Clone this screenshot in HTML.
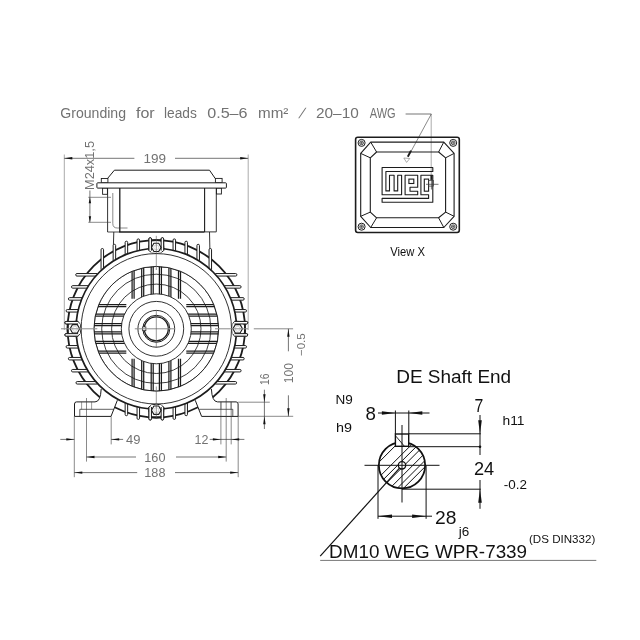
<!DOCTYPE html>
<html><head><meta charset="utf-8"><title>Motor drawing</title>
<style>
html,body{margin:0;padding:0;background:#fff;}
body{width:640px;height:640px;overflow:hidden;}
svg{display:block;font-family:"Liberation Sans",sans-serif;will-change:transform;opacity:0.999;}
</style></head><body>
<svg width="640" height="640" viewBox="0 0 640 640">
<rect width="640" height="640" fill="#fff"/>
<text x="60.3" y="117.6" font-size="14" fill="#727272" textLength="65.7" lengthAdjust="spacingAndGlyphs" >Grounding</text>
<text x="136" y="117.6" font-size="14" fill="#727272" textLength="18.7" lengthAdjust="spacingAndGlyphs" >for</text>
<text x="164" y="117.6" font-size="14" fill="#727272" textLength="32.9" lengthAdjust="spacingAndGlyphs" >leads</text>
<text x="207.2" y="117.6" font-size="14" fill="#727272" textLength="40.4" lengthAdjust="spacingAndGlyphs" >0.5–6</text>
<text x="258" y="117.6" font-size="14" fill="#727272" textLength="30.4" lengthAdjust="spacingAndGlyphs" >mm²</text>
<text x="0" y="0" font-size="14" fill="#727272" transform="translate(298.3 117.6) skewX(-23)">/</text>
<text x="316" y="117.6" font-size="14" fill="#727272" textLength="42.75" lengthAdjust="spacingAndGlyphs" >20–10</text>
<text x="369.7" y="117.6" font-size="14" fill="#727272" textLength="25.9" lengthAdjust="spacingAndGlyphs" >AWG</text>
<line x1="405.6" y1="114" x2="431.3" y2="114" stroke="#3a3a3a" stroke-width="0.7" />
<line x1="431.2" y1="114" x2="431.2" y2="175" stroke="#555" stroke-width="0.5" />
<line x1="431.3" y1="114" x2="409.4" y2="154.4" stroke="#3a3a3a" stroke-width="0.6" />
<line x1="411" y1="150.6" x2="407.8" y2="156.8" stroke="#1c1c1c" stroke-width="1.9" />
<path d="M403.8 158 L409.8 158.5 L406.6 162.4 Z" fill="none" stroke="#777" stroke-width="0.6" stroke-linejoin="round" />
<line x1="64.3" y1="154.5" x2="64.3" y2="330" stroke="#555" stroke-width="0.5" />
<line x1="248.2" y1="154.5" x2="248.2" y2="330" stroke="#555" stroke-width="0.5" />
<line x1="64.3" y1="158.3" x2="134.4" y2="158.3" stroke="#3a3a3a" stroke-width="0.7" />
<line x1="175" y1="158.3" x2="248.2" y2="158.3" stroke="#3a3a3a" stroke-width="0.7" />
<polygon points="64.3,158.3 72.3,157.1 72.3,159.5" fill="#111"/>
<polygon points="248.2,158.3 240.2,159.5 240.2,157.1" fill="#111"/>
<text x="143.4" y="162.6" font-size="13" fill="#727272" textLength="22.6" lengthAdjust="spacingAndGlyphs" >199</text>
<path d="M113.8 232 L113.4 245.5" fill="none" stroke="#1c1c1c" stroke-width="0.9" stroke-linejoin="round" />
<path d="M209.5 232 L209.9 250" fill="none" stroke="#1c1c1c" stroke-width="0.9" stroke-linejoin="round" />
<path d="M107.6 178.4 L114.4 170.2 L209.5 170.2 L215.3 178.6" fill="none" stroke="#1c1c1c" stroke-width="1.0" stroke-linejoin="round" />
<rect x="101.3" y="178.5" width="6.6" height="4.3" fill="#fff" stroke="#1c1c1c" stroke-width="0.9"/>
<rect x="215.4" y="178.4" width="6.7" height="4.3" fill="#fff" stroke="#1c1c1c" stroke-width="0.9"/>
<rect x="102.6" y="188" width="4.8" height="6.3" fill="#fff" stroke="#1c1c1c" stroke-width="0.9"/>
<rect x="216.4" y="188" width="5" height="6" fill="#fff" stroke="#1c1c1c" stroke-width="0.9"/>
<rect x="96.9" y="182.8" width="129.5" height="5.3" rx="0.8" fill="#fff" stroke="#1c1c1c" stroke-width="1.0"/>
<line x1="107.6" y1="188" x2="107.6" y2="232" stroke="#1c1c1c" stroke-width="0.9" />
<line x1="216.3" y1="188" x2="216.3" y2="231.8" stroke="#1c1c1c" stroke-width="0.9" />
<line x1="119.8" y1="188" x2="119.8" y2="232" stroke="#1c1c1c" stroke-width="1.3" />
<line x1="204.6" y1="188" x2="204.6" y2="232" stroke="#1c1c1c" stroke-width="1.1" />
<line x1="119.2" y1="231.9" x2="204.6" y2="231.9" stroke="#1c1c1c" stroke-width="1.5" />
<line x1="204.6" y1="231.9" x2="216.3" y2="231.9" stroke="#1c1c1c" stroke-width="0.9" />
<line x1="107.6" y1="232" x2="119.8" y2="232" stroke="#1c1c1c" stroke-width="0.8" />
<path d="M112.8 193 L112.8 223.5 Q112.8 228 117.3 228 L127.5 228" fill="none" stroke="#3a3a3a" stroke-width="0.6" />
<line x1="88.3" y1="197.3" x2="111" y2="197.3" stroke="#3a3a3a" stroke-width="0.6" />
<line x1="88.3" y1="222.3" x2="111" y2="222.3" stroke="#3a3a3a" stroke-width="0.6" />
<line x1="89.9" y1="190.5" x2="89.9" y2="222.3" stroke="#3a3a3a" stroke-width="0.7" />
<polygon points="89.9,197.3 91.1,203.3 88.7,203.3" fill="#111"/>
<polygon points="89.9,222.3 88.7,216.3 91.1,216.3" fill="#111"/>
<text x="94" y="190" font-size="12.4" fill="#727272" textLength="49" lengthAdjust="spacingAndGlyphs" transform="rotate(-90 94 190)" >M24x1,5</text>
<g id="motor">
<circle cx="156.3" cy="328.8" r="88.7" fill="none" stroke="#1c1c1c" stroke-width="1.8" />
<path d="M101.2 389 Q100.6 401.9 95 401.9 L76.5 401.9 Q74.5 401.9 74.5 404 L74.5 416.4 L111 416.4 L117.4 400.2" fill="#fff" stroke="#1c1c1c" stroke-width="1.0" />
<line x1="79.8" y1="409.3" x2="113.5" y2="409.3" stroke="#1c1c1c" stroke-width="0.7" />
<line x1="79.8" y1="409.3" x2="79.8" y2="416.4" stroke="#1c1c1c" stroke-width="0.7" />
<line x1="81.6" y1="401.9" x2="81.6" y2="409.3" stroke="#3a3a3a" stroke-width="0.5" />
<line x1="91.6" y1="401.9" x2="91.6" y2="409.3" stroke="#3a3a3a" stroke-width="0.5" />
<path d="M211.4 389 Q212 401.9 217.6 401.9 L236.1 401.9 Q238.1 401.9 238.1 404 L238.1 416.4 L201.6 416.4 L195.2 400.2" fill="#fff" stroke="#1c1c1c" stroke-width="1.0" />
<line x1="232.8" y1="409.3" x2="199.1" y2="409.3" stroke="#1c1c1c" stroke-width="0.7" />
<line x1="232.8" y1="409.3" x2="232.8" y2="416.4" stroke="#1c1c1c" stroke-width="0.7" />
<line x1="231" y1="401.9" x2="231" y2="409.3" stroke="#3a3a3a" stroke-width="0.5" />
<line x1="221" y1="401.9" x2="221" y2="409.3" stroke="#3a3a3a" stroke-width="0.5" />
<path d="M161.15 249.03 L161.15 238.9 Q161.15 237.7 162.4 237.7 Q163.65 237.7 163.65 238.9 L163.65 249.03" fill="#fff" stroke="#1c1c1c" stroke-width="1.0" />
<path d="M236.07 333.65 L246.5 333.65 Q247.7 333.65 247.7 334.9 Q247.7 336.15 246.5 336.15 L236.07 336.15" fill="#fff" stroke="#1c1c1c" stroke-width="1.0" />
<path d="M236.07 321.45 L246.5 321.45 Q247.7 321.45 247.7 322.7 Q247.7 323.95 246.5 323.95 L236.07 323.95" fill="#fff" stroke="#1c1c1c" stroke-width="1.0" />
<path d="M148.95 249.03 L148.95 238.9 Q148.95 237.7 150.2 237.7 Q151.45 237.7 151.45 238.9 L151.45 249.03" fill="#fff" stroke="#1c1c1c" stroke-width="1.0" />
<path d="M76.53 333.65 L66.1 333.65 Q64.9 333.65 64.9 334.9 Q64.9 336.15 66.1 336.15 L76.53 336.15" fill="#fff" stroke="#1c1c1c" stroke-width="1.0" />
<path d="M76.53 321.45 L66.1 321.45 Q64.9 321.45 64.9 322.7 Q64.9 323.95 66.1 323.95 L76.53 323.95" fill="#fff" stroke="#1c1c1c" stroke-width="1.0" />
<path d="M161.15 408.57 L161.15 418.8 Q161.15 420 162.4 420 Q163.65 420 163.65 418.8 L163.65 408.57" fill="#fff" stroke="#1c1c1c" stroke-width="1.0" />
<path d="M148.95 408.57 L148.95 418.8 Q148.95 420 150.2 420 Q151.45 420 151.45 418.8 L151.45 408.57" fill="#fff" stroke="#1c1c1c" stroke-width="1.0" />
<path d="M173.05 250.85 L173.05 240.1 Q173.05 238.9 174.3 238.9 Q175.55 238.9 175.55 240.1 L175.55 250.85" fill="#fff" stroke="#1c1c1c" stroke-width="1.0" />
<path d="M234.25 345.55 L245.3 345.55 Q246.5 345.55 246.5 346.8 Q246.5 348.05 245.3 348.05 L234.25 348.05" fill="#fff" stroke="#1c1c1c" stroke-width="1.0" />
<path d="M234.25 309.55 L245.3 309.55 Q246.5 309.55 246.5 310.8 Q246.5 312.05 245.3 312.05 L234.25 312.05" fill="#fff" stroke="#1c1c1c" stroke-width="1.0" />
<path d="M137.05 250.85 L137.05 240.1 Q137.05 238.9 138.3 238.9 Q139.55 238.9 139.55 240.1 L139.55 250.85" fill="#fff" stroke="#1c1c1c" stroke-width="1.0" />
<path d="M78.35 345.55 L67.3 345.55 Q66.1 345.55 66.1 346.8 Q66.1 348.05 67.3 348.05 L78.35 348.05" fill="#fff" stroke="#1c1c1c" stroke-width="1.0" />
<path d="M78.35 309.55 L67.3 309.55 Q66.1 309.55 66.1 310.8 Q66.1 312.05 67.3 312.05 L78.35 312.05" fill="#fff" stroke="#1c1c1c" stroke-width="1.0" />
<path d="M173.05 406.75 L173.05 418.2 Q173.05 419.4 174.3 419.4 Q175.55 419.4 175.55 418.2 L175.55 406.75" fill="#fff" stroke="#1c1c1c" stroke-width="1.0" />
<path d="M137.05 406.75 L137.05 418.2 Q137.05 419.4 138.3 419.4 Q139.55 419.4 139.55 418.2 L139.55 406.75" fill="#fff" stroke="#1c1c1c" stroke-width="1.0" />
<path d="M184.95 254.6 L184.95 242.4 Q184.95 241.2 186.2 241.2 Q187.45 241.2 187.45 242.4 L187.45 254.6" fill="#fff" stroke="#1c1c1c" stroke-width="1.0" />
<path d="M230.5 357.45 L243 357.45 Q244.2 357.45 244.2 358.7 Q244.2 359.95 243 359.95 L230.5 359.95" fill="#fff" stroke="#1c1c1c" stroke-width="1.0" />
<path d="M230.5 297.65 L243 297.65 Q244.2 297.65 244.2 298.9 Q244.2 300.15 243 300.15 L230.5 300.15" fill="#fff" stroke="#1c1c1c" stroke-width="1.0" />
<path d="M125.15 254.6 L125.15 242.4 Q125.15 241.2 126.4 241.2 Q127.65 241.2 127.65 242.4 L127.65 254.6" fill="#fff" stroke="#1c1c1c" stroke-width="1.0" />
<path d="M82.1 357.45 L69.6 357.45 Q68.4 357.45 68.4 358.7 Q68.4 359.95 69.6 359.95 L82.1 359.95" fill="#fff" stroke="#1c1c1c" stroke-width="1.0" />
<path d="M82.1 297.65 L69.6 297.65 Q68.4 297.65 68.4 298.9 Q68.4 300.15 69.6 300.15 L82.1 300.15" fill="#fff" stroke="#1c1c1c" stroke-width="1.0" />
<path d="M184.95 403 L184.95 414.5 Q184.95 415.7 186.2 415.7 Q187.45 415.7 187.45 414.5 L187.45 403" fill="#fff" stroke="#1c1c1c" stroke-width="1.0" />
<path d="M125.15 403 L125.15 414.5 Q125.15 415.7 126.4 415.7 Q127.65 415.7 127.65 414.5 L127.65 403" fill="#fff" stroke="#1c1c1c" stroke-width="1.0" />
<path d="M196.95 260.65 L196.95 245.5 Q196.95 244.3 198.2 244.3 Q199.45 244.3 199.45 245.5 L199.45 260.65" fill="#fff" stroke="#1c1c1c" stroke-width="1.0" />
<path d="M224.45 369.45 L239.9 369.45 Q241.1 369.45 241.1 370.7 Q241.1 371.95 239.9 371.95 L224.45 371.95" fill="#fff" stroke="#1c1c1c" stroke-width="1.0" />
<path d="M224.45 285.65 L239.9 285.65 Q241.1 285.65 241.1 286.9 Q241.1 288.15 239.9 288.15 L224.45 288.15" fill="#fff" stroke="#1c1c1c" stroke-width="1.0" />
<path d="M113.15 260.65 L113.15 245.5 Q113.15 244.3 114.4 244.3 Q115.65 244.3 115.65 245.5 L115.65 260.65" fill="#fff" stroke="#1c1c1c" stroke-width="1.0" />
<path d="M88.15 369.45 L72.7 369.45 Q71.5 369.45 71.5 370.7 Q71.5 371.95 72.7 371.95 L88.15 371.95" fill="#fff" stroke="#1c1c1c" stroke-width="1.0" />
<path d="M88.15 285.65 L72.7 285.65 Q71.5 285.65 71.5 286.9 Q71.5 288.15 72.7 288.15 L88.15 288.15" fill="#fff" stroke="#1c1c1c" stroke-width="1.0" />
<path d="M209.05 269.77 L209.05 249.7 Q209.05 248.5 210.3 248.5 Q211.55 248.5 211.55 249.7 L211.55 269.77" fill="#fff" stroke="#1c1c1c" stroke-width="1.0" />
<path d="M215.33 381.55 L235.4 381.55 Q236.6 381.55 236.6 382.8 Q236.6 384.05 235.4 384.05 L215.33 384.05" fill="#fff" stroke="#1c1c1c" stroke-width="1.0" />
<path d="M215.33 273.55 L235.7 273.55 Q236.9 273.55 236.9 274.8 Q236.9 276.05 235.7 276.05 L215.33 276.05" fill="#fff" stroke="#1c1c1c" stroke-width="1.0" />
<path d="M101.05 269.77 L101.05 249.7 Q101.05 248.5 102.3 248.5 Q103.55 248.5 103.55 249.7 L103.55 269.77" fill="#fff" stroke="#1c1c1c" stroke-width="1.0" />
<path d="M97.27 381.55 L77.2 381.55 Q76 381.55 76 382.8 Q76 384.05 77.2 384.05 L97.27 384.05" fill="#fff" stroke="#1c1c1c" stroke-width="1.0" />
<path d="M97.27 273.55 L76.9 273.55 Q75.7 273.55 75.7 274.8 Q75.7 276.05 76.9 276.05 L97.27 276.05" fill="#fff" stroke="#1c1c1c" stroke-width="1.0" />
<circle cx="156.3" cy="328.8" r="80.3" fill="#fff" stroke="#1c1c1c" stroke-width="1.7" />
<circle cx="156.3" cy="328.8" r="75.2" fill="none" stroke="#1c1c1c" stroke-width="0.9" />
<path d="M149 245.4 L148.7 250.4 Q150.7 253.3 156.3 253.5 Q161.9 253.3 163.9 250.4 L163.6 245.4" fill="#fff" stroke="#1c1c1c" stroke-width="1.0" />
<rect x="151.1" y="242.2" width="10.4" height="10.4" fill="#fff"/>
<path d="M149.3 240.38 A88.7 88.7 0 0 1 163.3 240.38" fill="none" stroke="#1c1c1c" stroke-width="1.8" />
<path d="M161.15 250.6 L161.15 238.9 Q161.15 237.7 162.4 237.7 Q163.65 237.7 163.65 238.9 L163.65 250.6" fill="#fff" stroke="#1c1c1c" stroke-width="1.0" />
<path d="M148.95 250.6 L148.95 238.9 Q148.95 237.7 150.2 237.7 Q151.45 237.7 151.45 238.9 L151.45 250.6" fill="#fff" stroke="#1c1c1c" stroke-width="1.0" />
<path d="M161.1 247.4 L158.7 251.56 L153.9 251.56 L151.5 247.4 L153.9 243.24 L158.7 243.24 Z" fill="none" stroke="#1c1c1c" stroke-width="1.1" stroke-linejoin="round" />
<circle cx="156.3" cy="247.4" r="2.5" fill="none" stroke="#b0b0b0" stroke-width="0.5" />
<path d="M239.7 321.5 L234.7 321.2 Q231.8 323.2 231.6 328.8 Q231.8 334.4 234.7 336.4 L239.7 336.1" fill="#fff" stroke="#1c1c1c" stroke-width="1.0" />
<rect x="232.5" y="323.6" width="10.4" height="10.4" fill="#fff"/>
<path d="M244.72 321.8 A88.7 88.7 0 0 1 244.72 335.8" fill="none" stroke="#1c1c1c" stroke-width="1.8" />
<path d="M234.5 333.65 L246.5 333.65 Q247.7 333.65 247.7 334.9 Q247.7 336.15 246.5 336.15 L234.5 336.15" fill="#fff" stroke="#1c1c1c" stroke-width="1.0" />
<path d="M234.5 321.45 L246.5 321.45 Q247.7 321.45 247.7 322.7 Q247.7 323.95 246.5 323.95 L234.5 323.95" fill="#fff" stroke="#1c1c1c" stroke-width="1.0" />
<path d="M242.5 328.8 L240.1 332.96 L235.3 332.96 L232.9 328.8 L235.3 324.64 L240.1 324.64 Z" fill="none" stroke="#1c1c1c" stroke-width="1.1" stroke-linejoin="round" />
<circle cx="237.7" cy="328.8" r="2.5" fill="none" stroke="#b0b0b0" stroke-width="0.5" />
<path d="M163.6 412.2 L163.9 407.2 Q161.9 404.3 156.3 404.1 Q150.7 404.3 148.7 407.2 L149 412.2" fill="#fff" stroke="#1c1c1c" stroke-width="1.0" />
<rect x="151.1" y="405" width="10.4" height="10.4" fill="#fff"/>
<path d="M163.3 417.22 A88.7 88.7 0 0 1 149.3 417.22" fill="none" stroke="#1c1c1c" stroke-width="1.8" />
<path d="M161.15 407 L161.15 418.8 Q161.15 420 162.4 420 Q163.65 420 163.65 418.8 L163.65 407" fill="#fff" stroke="#1c1c1c" stroke-width="1.0" />
<path d="M148.95 407 L148.95 418.8 Q148.95 420 150.2 420 Q151.45 420 151.45 418.8 L151.45 407" fill="#fff" stroke="#1c1c1c" stroke-width="1.0" />
<path d="M161.1 410.2 L158.7 414.36 L153.9 414.36 L151.5 410.2 L153.9 406.04 L158.7 406.04 Z" fill="none" stroke="#1c1c1c" stroke-width="1.1" stroke-linejoin="round" />
<circle cx="156.3" cy="410.2" r="2.5" fill="none" stroke="#b0b0b0" stroke-width="0.5" />
<path d="M72.9 336.1 L77.9 336.4 Q80.8 334.4 81 328.8 Q80.8 323.2 77.9 321.2 L72.9 321.5" fill="#fff" stroke="#1c1c1c" stroke-width="1.0" />
<rect x="69.7" y="323.6" width="10.4" height="10.4" fill="#fff"/>
<path d="M67.88 335.8 A88.7 88.7 0 0 1 67.88 321.8" fill="none" stroke="#1c1c1c" stroke-width="1.8" />
<path d="M78.1 333.65 L66.1 333.65 Q64.9 333.65 64.9 334.9 Q64.9 336.15 66.1 336.15 L78.1 336.15" fill="#fff" stroke="#1c1c1c" stroke-width="1.0" />
<path d="M78.1 321.45 L66.1 321.45 Q64.9 321.45 64.9 322.7 Q64.9 323.95 66.1 323.95 L78.1 323.95" fill="#fff" stroke="#1c1c1c" stroke-width="1.0" />
<path d="M79.7 328.8 L77.3 332.96 L72.5 332.96 L70.1 328.8 L72.5 324.64 L77.3 324.64 Z" fill="none" stroke="#1c1c1c" stroke-width="1.1" stroke-linejoin="round" />
<circle cx="74.9" cy="328.8" r="2.5" fill="none" stroke="#b0b0b0" stroke-width="0.5" />
<defs><clipPath id="gv"><path d="M156.3 328.8 m-62.4 0 a62.4 62.4 0 1 0 124.8 0 a62.4 62.4 0 1 0 -124.8 0 Z M156.3 328.8 m-35 0 a35 35 0 1 1 70 0 a35 35 0 1 1 -70 0 Z" clip-rule="evenodd"/></clipPath></defs>
<g clip-path="url(#gv)">
<circle cx="156.3" cy="328.8" r="62.4" fill="none" stroke="#1c1c1c" stroke-width="0.85" />
<circle cx="156.3" cy="328.8" r="54.6" fill="none" stroke="#1c1c1c" stroke-width="0.85" />
<circle cx="156.3" cy="328.8" r="44.7" fill="none" stroke="#1c1c1c" stroke-width="0.85" />
<line x1="159.4" y1="265.8" x2="159.4" y2="298.8" stroke="#1c1c1c" stroke-width="1.25" />
<line x1="159.4" y1="391.8" x2="159.4" y2="358.8" stroke="#1c1c1c" stroke-width="1.25" />
<line x1="93.3" y1="331.9" x2="126.3" y2="331.9" stroke="#1c1c1c" stroke-width="1.25" />
<line x1="219.3" y1="331.9" x2="186.3" y2="331.9" stroke="#1c1c1c" stroke-width="1.25" />
<line x1="161.4" y1="265.8" x2="161.4" y2="298.8" stroke="#1c1c1c" stroke-width="1.25" />
<line x1="161.4" y1="391.8" x2="161.4" y2="358.8" stroke="#1c1c1c" stroke-width="1.25" />
<line x1="93.3" y1="333.9" x2="126.3" y2="333.9" stroke="#1c1c1c" stroke-width="1.25" />
<line x1="219.3" y1="333.9" x2="186.3" y2="333.9" stroke="#1c1c1c" stroke-width="1.25" />
<line x1="151.2" y1="265.8" x2="151.2" y2="298.8" stroke="#1c1c1c" stroke-width="1.25" />
<line x1="151.2" y1="391.8" x2="151.2" y2="358.8" stroke="#1c1c1c" stroke-width="1.25" />
<line x1="93.3" y1="323.7" x2="126.3" y2="323.7" stroke="#1c1c1c" stroke-width="1.25" />
<line x1="219.3" y1="323.7" x2="186.3" y2="323.7" stroke="#1c1c1c" stroke-width="1.25" />
<line x1="153.2" y1="265.8" x2="153.2" y2="298.8" stroke="#1c1c1c" stroke-width="1.25" />
<line x1="153.2" y1="391.8" x2="153.2" y2="358.8" stroke="#1c1c1c" stroke-width="1.25" />
<line x1="93.3" y1="325.7" x2="126.3" y2="325.7" stroke="#1c1c1c" stroke-width="1.25" />
<line x1="219.3" y1="325.7" x2="186.3" y2="325.7" stroke="#1c1c1c" stroke-width="1.25" />
<line x1="168.9" y1="265.8" x2="168.9" y2="298.8" stroke="#1c1c1c" stroke-width="1.25" />
<line x1="168.9" y1="391.8" x2="168.9" y2="358.8" stroke="#1c1c1c" stroke-width="1.25" />
<line x1="93.3" y1="341.4" x2="126.3" y2="341.4" stroke="#1c1c1c" stroke-width="1.25" />
<line x1="219.3" y1="341.4" x2="186.3" y2="341.4" stroke="#1c1c1c" stroke-width="1.25" />
<line x1="170.9" y1="265.8" x2="170.9" y2="298.8" stroke="#1c1c1c" stroke-width="1.25" />
<line x1="170.9" y1="391.8" x2="170.9" y2="358.8" stroke="#1c1c1c" stroke-width="1.25" />
<line x1="93.3" y1="343.4" x2="126.3" y2="343.4" stroke="#1c1c1c" stroke-width="1.25" />
<line x1="219.3" y1="343.4" x2="186.3" y2="343.4" stroke="#1c1c1c" stroke-width="1.25" />
<line x1="141.7" y1="265.8" x2="141.7" y2="298.8" stroke="#1c1c1c" stroke-width="1.25" />
<line x1="141.7" y1="391.8" x2="141.7" y2="358.8" stroke="#1c1c1c" stroke-width="1.25" />
<line x1="93.3" y1="314.2" x2="126.3" y2="314.2" stroke="#1c1c1c" stroke-width="1.25" />
<line x1="219.3" y1="314.2" x2="186.3" y2="314.2" stroke="#1c1c1c" stroke-width="1.25" />
<line x1="143.7" y1="265.8" x2="143.7" y2="298.8" stroke="#1c1c1c" stroke-width="1.25" />
<line x1="143.7" y1="391.8" x2="143.7" y2="358.8" stroke="#1c1c1c" stroke-width="1.25" />
<line x1="93.3" y1="316.2" x2="126.3" y2="316.2" stroke="#1c1c1c" stroke-width="1.25" />
<line x1="219.3" y1="316.2" x2="186.3" y2="316.2" stroke="#1c1c1c" stroke-width="1.25" />
<line x1="178.5" y1="265.8" x2="178.5" y2="298.8" stroke="#1c1c1c" stroke-width="1.25" />
<line x1="178.5" y1="391.8" x2="178.5" y2="358.8" stroke="#1c1c1c" stroke-width="1.25" />
<line x1="93.3" y1="351" x2="126.3" y2="351" stroke="#1c1c1c" stroke-width="1.25" />
<line x1="219.3" y1="351" x2="186.3" y2="351" stroke="#1c1c1c" stroke-width="1.25" />
<line x1="180.5" y1="265.8" x2="180.5" y2="298.8" stroke="#1c1c1c" stroke-width="1.25" />
<line x1="180.5" y1="391.8" x2="180.5" y2="358.8" stroke="#1c1c1c" stroke-width="1.25" />
<line x1="93.3" y1="353" x2="126.3" y2="353" stroke="#1c1c1c" stroke-width="1.25" />
<line x1="219.3" y1="353" x2="186.3" y2="353" stroke="#1c1c1c" stroke-width="1.25" />
<line x1="132.1" y1="265.8" x2="132.1" y2="298.8" stroke="#1c1c1c" stroke-width="1.25" />
<line x1="132.1" y1="391.8" x2="132.1" y2="358.8" stroke="#1c1c1c" stroke-width="1.25" />
<line x1="93.3" y1="304.6" x2="126.3" y2="304.6" stroke="#1c1c1c" stroke-width="1.25" />
<line x1="219.3" y1="304.6" x2="186.3" y2="304.6" stroke="#1c1c1c" stroke-width="1.25" />
<line x1="134.1" y1="265.8" x2="134.1" y2="298.8" stroke="#1c1c1c" stroke-width="1.25" />
<line x1="134.1" y1="391.8" x2="134.1" y2="358.8" stroke="#1c1c1c" stroke-width="1.25" />
<line x1="93.3" y1="306.6" x2="126.3" y2="306.6" stroke="#1c1c1c" stroke-width="1.25" />
<line x1="219.3" y1="306.6" x2="186.3" y2="306.6" stroke="#1c1c1c" stroke-width="1.25" />
</g>
<circle cx="156.3" cy="328.8" r="62.4" fill="none" stroke="#1c1c1c" stroke-width="0.9" />
<circle cx="156.3" cy="328.8" r="35" fill="none" stroke="#1c1c1c" stroke-width="0.9" />
<circle cx="156.3" cy="328.8" r="27.4" fill="none" stroke="#1c1c1c" stroke-width="0.9" />
<circle cx="156.3" cy="328.8" r="18.4" fill="none" stroke="#1c1c1c" stroke-width="0.9" />
<circle cx="156.3" cy="328.8" r="13.5" fill="none" stroke="#1c1c1c" stroke-width="1.0" />
<circle cx="156.3" cy="328.8" r="12" fill="none" stroke="#1c1c1c" stroke-width="1.3" />
<rect x="142.7" y="326.9" width="3.2" height="3.8" fill="#fff" stroke="#1c1c1c" stroke-width="0.7"/>
</g>
<line x1="61" y1="328.8" x2="97.3" y2="328.8" stroke="#8a8a8a" stroke-width="1.0" />
<line x1="134.8" y1="328.8" x2="174.8" y2="328.8" stroke="#8a8a8a" stroke-width="1.0" />
<line x1="215" y1="328.8" x2="248" y2="328.8" stroke="#8a8a8a" stroke-width="1.0" />
<line x1="253.8" y1="328.8" x2="293.1" y2="328.8" stroke="#8a8a8a" stroke-width="1.0" />
<line x1="156.3" y1="235.8" x2="156.3" y2="270" stroke="#555" stroke-width="0.6" />
<line x1="156.3" y1="310" x2="156.3" y2="348" stroke="#555" stroke-width="0.6" />
<line x1="156.3" y1="386.5" x2="156.3" y2="418" stroke="#555" stroke-width="0.6" />
<line x1="74.3" y1="416.4" x2="74.3" y2="477.2" stroke="#3a3a3a" stroke-width="0.6" />
<line x1="86.5" y1="398" x2="86.5" y2="461.6" stroke="#3a3a3a" stroke-width="0.6" />
<line x1="111.2" y1="416.4" x2="111.2" y2="444.4" stroke="#3a3a3a" stroke-width="0.6" />
<line x1="220.9" y1="401.9" x2="220.9" y2="444.4" stroke="#3a3a3a" stroke-width="0.6" />
<line x1="226.2" y1="398" x2="226.2" y2="461.6" stroke="#3a3a3a" stroke-width="0.6" />
<line x1="231.2" y1="401.9" x2="231.2" y2="444.4" stroke="#3a3a3a" stroke-width="0.6" />
<line x1="238.2" y1="416.4" x2="238.2" y2="477.2" stroke="#3a3a3a" stroke-width="0.6" />
<line x1="60.3" y1="439.4" x2="74.3" y2="439.4" stroke="#3a3a3a" stroke-width="0.7" />
<polygon points="74.3,439.4 66.3,440.6 66.3,438.2" fill="#111"/>
<line x1="111.2" y1="439.4" x2="123.1" y2="439.4" stroke="#3a3a3a" stroke-width="0.7" />
<polygon points="111.2,439.4 119.2,438.2 119.2,440.6" fill="#111"/>
<text x="126" y="444.3" font-size="12.8" fill="#727272" textLength="14.4" lengthAdjust="spacingAndGlyphs" >49</text>
<line x1="209.7" y1="439.4" x2="244.4" y2="439.4" stroke="#3a3a3a" stroke-width="0.7" />
<polygon points="220.9,439.4 212.9,440.6 212.9,438.2" fill="#111"/>
<polygon points="231.2,439.4 239.2,438.2 239.2,440.6" fill="#111"/>
<text x="194.5" y="444.3" font-size="12.8" fill="#727272" textLength="13.9" lengthAdjust="spacingAndGlyphs" >12</text>
<line x1="86.5" y1="457" x2="136" y2="457" stroke="#3a3a3a" stroke-width="0.7" />
<line x1="176" y1="457" x2="226.2" y2="457" stroke="#3a3a3a" stroke-width="0.7" />
<polygon points="86.5,457 94.5,455.8 94.5,458.2" fill="#111"/>
<polygon points="226.2,457 218.2,458.2 218.2,455.8" fill="#111"/>
<text x="144.3" y="461.5" font-size="12.8" fill="#727272" textLength="21.2" lengthAdjust="spacingAndGlyphs" >160</text>
<line x1="74.3" y1="472.6" x2="137.2" y2="472.6" stroke="#3a3a3a" stroke-width="0.7" />
<line x1="175" y1="472.6" x2="238.2" y2="472.6" stroke="#3a3a3a" stroke-width="0.7" />
<polygon points="74.3,472.6 82.3,471.4 82.3,473.8" fill="#111"/>
<polygon points="238.2,472.6 230.2,473.8 230.2,471.4" fill="#111"/>
<text x="144.3" y="477.3" font-size="12.8" fill="#727272" textLength="21.2" lengthAdjust="spacingAndGlyphs" >188</text>
<line x1="238.2" y1="402.2" x2="269.8" y2="402.2" stroke="#3a3a3a" stroke-width="0.6" />
<line x1="238.2" y1="416.3" x2="293.2" y2="416.3" stroke="#3a3a3a" stroke-width="0.6" />
<line x1="264.4" y1="389.7" x2="264.4" y2="429" stroke="#3a3a3a" stroke-width="0.7" />
<polygon points="264.4,402.2 263.2,394.2 265.6,394.2" fill="#111"/>
<polygon points="264.4,416.3 265.6,424.3 263.2,424.3" fill="#111"/>
<text x="269" y="385" font-size="12.8" fill="#727272" textLength="11.4" lengthAdjust="spacingAndGlyphs" transform="rotate(-90 269 385)" >16</text>
<line x1="288.4" y1="328.8" x2="288.4" y2="351.3" stroke="#3a3a3a" stroke-width="0.7" />
<line x1="288.4" y1="395.3" x2="288.4" y2="416.3" stroke="#3a3a3a" stroke-width="0.7" />
<polygon points="288.4,328.8 289.6,336.8 287.2,336.8" fill="#111"/>
<polygon points="288.4,416.3 287.2,408.3 289.6,408.3" fill="#111"/>
<text x="292.8" y="383.2" font-size="12.8" fill="#727272" textLength="20.2" lengthAdjust="spacingAndGlyphs" transform="rotate(-90 292.8 383.2)" >100</text>
<text x="304.6" y="356" font-size="11.6" fill="#727272" textLength="22.6" lengthAdjust="spacingAndGlyphs" transform="rotate(-90 304.6 356)" >−0.5</text>
<rect x="355.6" y="137.2" width="103.7" height="95.3" rx="2.2" fill="none" stroke="#1c1c1c" stroke-width="1.6"/>
<circle cx="361.6" cy="142.9" r="3.5" fill="none" stroke="#1c1c1c" stroke-width="1.0" />
<circle cx="361.6" cy="142.9" r="1.9" fill="none" stroke="#1c1c1c" stroke-width="0.7" />
<line x1="360" y1="142.9" x2="363.2" y2="142.9" stroke="#1c1c1c" stroke-width="0.6" />
<line x1="361.6" y1="141.3" x2="361.6" y2="144.5" stroke="#1c1c1c" stroke-width="0.6" />
<circle cx="453.2" cy="142.9" r="3.5" fill="none" stroke="#1c1c1c" stroke-width="1.0" />
<circle cx="453.2" cy="142.9" r="1.9" fill="none" stroke="#1c1c1c" stroke-width="0.7" />
<line x1="451.6" y1="142.9" x2="454.8" y2="142.9" stroke="#1c1c1c" stroke-width="0.6" />
<line x1="453.2" y1="141.3" x2="453.2" y2="144.5" stroke="#1c1c1c" stroke-width="0.6" />
<circle cx="361.6" cy="226.7" r="3.5" fill="none" stroke="#1c1c1c" stroke-width="1.0" />
<circle cx="361.6" cy="226.7" r="1.9" fill="none" stroke="#1c1c1c" stroke-width="0.7" />
<line x1="360" y1="226.7" x2="363.2" y2="226.7" stroke="#1c1c1c" stroke-width="0.6" />
<line x1="361.6" y1="225.1" x2="361.6" y2="228.3" stroke="#1c1c1c" stroke-width="0.6" />
<circle cx="453.2" cy="226.7" r="3.5" fill="none" stroke="#1c1c1c" stroke-width="1.0" />
<circle cx="453.2" cy="226.7" r="1.9" fill="none" stroke="#1c1c1c" stroke-width="0.7" />
<line x1="451.6" y1="226.7" x2="454.8" y2="226.7" stroke="#1c1c1c" stroke-width="0.6" />
<line x1="453.2" y1="225.1" x2="453.2" y2="228.3" stroke="#1c1c1c" stroke-width="0.6" />
<path d="M370.7 142.1 L443.8 142.1 L454.1 153.4 L454.1 216.3 L443.8 227.5 L370.7 227.5 L360.7 216.3 L360.7 153.4 Z" fill="none" stroke="#1c1c1c" stroke-width="1.1" stroke-linejoin="round" />
<path d="M376.6 152 L438.6 152 L445.6 157.8 L445.6 212.1 L438.6 217.8 L376.6 217.8 L370.3 212.1 L370.3 157.8 Z" fill="none" stroke="#1c1c1c" stroke-width="1.1" stroke-linejoin="round" />
<line x1="370.7" y1="142.1" x2="376.6" y2="152" stroke="#1c1c1c" stroke-width="1.0" />
<line x1="443.8" y1="142.1" x2="438.6" y2="152" stroke="#1c1c1c" stroke-width="1.0" />
<line x1="454.1" y1="153.4" x2="445.6" y2="157.8" stroke="#1c1c1c" stroke-width="1.0" />
<line x1="454.1" y1="216.3" x2="445.6" y2="212.1" stroke="#1c1c1c" stroke-width="1.0" />
<line x1="443.8" y1="227.5" x2="438.6" y2="217.8" stroke="#1c1c1c" stroke-width="1.0" />
<line x1="370.7" y1="227.5" x2="376.6" y2="217.8" stroke="#1c1c1c" stroke-width="1.0" />
<line x1="360.7" y1="216.3" x2="370.3" y2="212.1" stroke="#1c1c1c" stroke-width="1.0" />
<line x1="360.7" y1="153.4" x2="370.3" y2="157.8" stroke="#1c1c1c" stroke-width="1.0" />
<path d="M432.8 167.5 L382.1 167.5 L382.1 194.8 L401.6 194.8 L401.6 175.2 L397.7 175.2 L397.7 190.9 L394.1 190.9 L394.1 175.2 L389.5 175.2 L389.5 190.9 L385.9 190.9 L385.9 171.5 L432.8 171.5 Z" fill="none" stroke="#1c1c1c" stroke-width="1.1" stroke-linejoin="round" />
<path d="M405.1 175.3 L417.7 175.3 L417.7 187.3 L410 187.3 L410 191.2 L417.7 191.2 L417.7 194.8 L405.1 194.8 Z" fill="none" stroke="#1c1c1c" stroke-width="1.1" stroke-linejoin="round" />
<rect x="408.9" y="179.1" width="4.9" height="4.4" fill="none" stroke="#1c1c1c" stroke-width="1.1"/>
<path d="M420.9 175.3 L432.8 175.3 L432.8 202.3 L382.1 202.3 L382.1 198.4 L428.6 198.4 L428.6 194.8 L420.9 194.8 Z" fill="none" stroke="#1c1c1c" stroke-width="1.1" stroke-linejoin="round" />
<rect x="424.3" y="179.1" width="4.3" height="12.1" fill="none" stroke="#1c1c1c" stroke-width="1.1"/>
<line x1="431.4" y1="175" x2="431.4" y2="180" stroke="#1c1c1c" stroke-width="2.0" />
<rect x="428.4" y="180.5" width="5" height="5.6" fill="none" stroke="#3a3a3a" stroke-width="0.7"/>
<line x1="426" y1="184.3" x2="438.5" y2="184.3" stroke="#3a3a3a" stroke-width="0.7" />
<line x1="431.4" y1="179" x2="431.4" y2="189.5" stroke="#3a3a3a" stroke-width="0.7" />
<text x="390.2" y="255.7" font-size="11.9" fill="#111" textLength="34.8" lengthAdjust="spacingAndGlyphs" >View X</text>
<text x="396.2" y="382.5" font-size="18.3" fill="#111" textLength="115" lengthAdjust="spacingAndGlyphs" >DE Shaft End</text>
<text x="335.5" y="403.8" font-size="13" fill="#111" textLength="17.3" lengthAdjust="spacingAndGlyphs" >N9</text>
<text x="336.1" y="432.3" font-size="13" fill="#111" textLength="16" lengthAdjust="spacingAndGlyphs" >h9</text>
<text x="365.6" y="420" font-size="17.8" fill="#111" textLength="10.4" lengthAdjust="spacingAndGlyphs" >8</text>
<line x1="378" y1="413" x2="429.5" y2="413" stroke="#111" stroke-width="1.0" />
<polygon points="395.4,413 381.9,414.8 381.9,411.2" fill="#111"/>
<polygon points="408.8,413 422.3,411.2 422.3,414.8" fill="#111"/>
<line x1="395.4" y1="410.5" x2="395.4" y2="434" stroke="#111" stroke-width="1.0" />
<line x1="408.8" y1="410.5" x2="408.8" y2="434" stroke="#111" stroke-width="1.0" />
<defs><clipPath id="sc"><circle cx="402.0" cy="465.3" r="23.15"/></clipPath></defs>
<g clip-path="url(#sc)">
<line x1="358.9" y1="482.2" x2="418.9" y2="422.2" stroke="#111" stroke-width="1.0" />
<line x1="366.45" y1="489.75" x2="426.45" y2="429.75" stroke="#111" stroke-width="1.0" />
<line x1="369.8" y1="493.1" x2="429.8" y2="433.1" stroke="#111" stroke-width="1.0" />
<line x1="373.15" y1="496.45" x2="433.15" y2="436.45" stroke="#111" stroke-width="1.0" />
<line x1="377.45" y1="500.75" x2="437.45" y2="440.75" stroke="#111" stroke-width="1.0" />
<line x1="381.1" y1="504.4" x2="441.1" y2="444.4" stroke="#111" stroke-width="1.0" />
<line x1="384.25" y1="507.55" x2="444.25" y2="447.55" stroke="#111" stroke-width="1.0" />
</g>
<circle cx="402" cy="465.3" r="23.15" fill="none" stroke="#111" stroke-width="1.8" />
<rect x="395.4" y="434" width="13.3" height="12.3" fill="#fff" stroke="#111" stroke-width="1.4"/>
<line x1="395.9" y1="436.2" x2="404.2" y2="446" stroke="#111" stroke-width="0.9" />
<circle cx="402" cy="465.3" r="3.7" fill="#fff" stroke="#111" stroke-width="1.3" />
<line x1="364.5" y1="465.3" x2="439.5" y2="465.3" stroke="#111" stroke-width="1.0" />
<line x1="402" y1="425" x2="402" y2="502.5" stroke="#111" stroke-width="1.0" />
<line x1="408.8" y1="433.8" x2="480.8" y2="433.8" stroke="#111" stroke-width="1.0" />
<line x1="408.8" y1="446.7" x2="480.8" y2="446.7" stroke="#111" stroke-width="1.0" />
<line x1="402" y1="489.2" x2="480.8" y2="489.2" stroke="#111" stroke-width="1.0" />
<line x1="480" y1="415" x2="480" y2="455" stroke="#111" stroke-width="1.0" />
<line x1="480" y1="480" x2="480" y2="508.8" stroke="#111" stroke-width="1.0" />
<polygon points="480,433.8 478.2,420.3 481.8,420.3" fill="#111"/>
<polygon points="480,489.2 481.8,502.7 478.2,502.7" fill="#111"/>
<circle cx="480" cy="446.8" r="1.3" fill="#111" stroke="#111" stroke-width="0" />
<text x="474.6" y="412.4" font-size="17.8" fill="#111" textLength="8.8" lengthAdjust="spacingAndGlyphs" >7</text>
<text x="474" y="474.5" font-size="17.8" fill="#111" textLength="20.2" lengthAdjust="spacingAndGlyphs" >24</text>
<text x="502.5" y="425" font-size="13.4" fill="#111" textLength="22" lengthAdjust="spacingAndGlyphs" >h11</text>
<text x="503.8" y="488.8" font-size="13.2" fill="#111" textLength="23.2" lengthAdjust="spacingAndGlyphs" >-0.2</text>
<line x1="378" y1="465.3" x2="378" y2="518.8" stroke="#111" stroke-width="1.0" />
<line x1="426.1" y1="465.3" x2="426.1" y2="518.8" stroke="#111" stroke-width="1.0" />
<line x1="378" y1="516.2" x2="432" y2="516.2" stroke="#111" stroke-width="1.0" />
<polygon points="378,516.2 392,514.4 392,518" fill="#111"/>
<polygon points="426.1,516.2 412.1,518 412.1,514.4" fill="#111"/>
<text x="435" y="523.8" font-size="17.8" fill="#111" textLength="21.4" lengthAdjust="spacingAndGlyphs" >28</text>
<text x="458.8" y="535.5" font-size="12.6" fill="#111" textLength="10.5" lengthAdjust="spacingAndGlyphs" >j6</text>
<line x1="320.2" y1="556.1" x2="399.5" y2="468.2" stroke="#111" stroke-width="1.2" />
<line x1="320.2" y1="560.4" x2="596.3" y2="560.4" stroke="#777" stroke-width="1.0" />
<text x="329.1" y="558.3" font-size="18.7" fill="#111" textLength="198" lengthAdjust="spacingAndGlyphs" >DM10 WEG WPR-7339</text>
<text x="529" y="543.1" font-size="11.6" fill="#111" textLength="66.3" lengthAdjust="spacingAndGlyphs" >(DS DIN332)</text>
</svg>
</body></html>
